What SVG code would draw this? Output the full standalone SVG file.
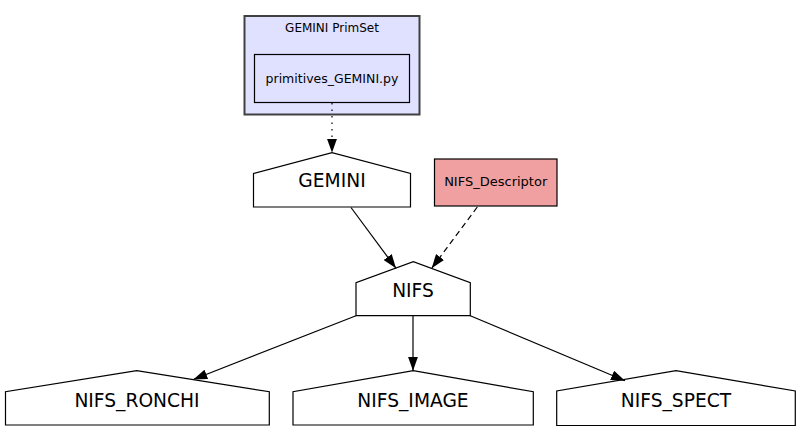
<svg xmlns="http://www.w3.org/2000/svg" width="800" height="437" viewBox="0 0 800 437">
<style>
  .big { font-family: "DejaVu Sans", sans-serif; font-size: 18.67px; text-anchor: middle; fill: #000; }
  .small { font-family: "DejaVu Sans", sans-serif; font-size: 12.5px; text-anchor: middle; fill: #000; }
  .house { fill: #ffffff; stroke: #000; stroke-width: 1.2; }
  .edge { fill: none; stroke: #000; stroke-width: 1.2; }
</style>
<defs>
  <marker id="arr" viewBox="0 0 14 10" refX="14" refY="5" markerWidth="14" markerHeight="10" markerUnits="userSpaceOnUse" orient="auto">
    <path d="M0,0 L14,5 L0,10 z" fill="#000"/>
  </marker>
</defs>
<rect width="800" height="437" fill="#ffffff"/>
<g id="cluster_GEMINI_PrimSet">
  <rect x="244.5" y="16" width="175" height="98.5" fill="#e0e0ff" stroke="#404040" stroke-width="2"/>
  <text class="small" x="332" y="31.5" style="font-size:12px">GEMINI PrimSet</text>
</g>
<g id="node_primitives_GEMINI">
  <rect x="254.5" y="54.5" width="155" height="48" fill="#e0e0ff" stroke="#000" stroke-width="1.2"/>
  <text class="small" x="332" y="83.3">primitives_GEMINI.py</text>
</g>
<g id="node_GEMINI">
  <polygon class="house" points="253.5,207 410.5,207 410.5,173.5 332,152.7 253.5,173.5"/>
  <text class="big" x="332" y="186.7">GEMINI</text>
</g>
<g id="node_NIFS_Descriptor">
  <rect x="434.5" y="159" width="122.5" height="47" fill="#f0a0a0" stroke="#000" stroke-width="1.2"/>
  <text class="small" x="495.7" y="185.7" style="font-size:13px">NIFS_Descriptor</text>
</g>
<g id="node_NIFS">
  <polygon class="house" points="356,315.7 470.3,315.7 470.3,282.7 413.3,261.7 356,282.7"/>
  <text class="big" x="413" y="296.7">NIFS</text>
</g>
<g id="node_NIFS_RONCHI">
  <polygon class="house" points="5.5,425 269.3,425 269.3,391.7 136.7,370.7 5.5,391.7"/>
  <text class="big" x="137" y="406.7">NIFS_RONCHI</text>
</g>
<g id="node_NIFS_IMAGE">
  <polygon class="house" points="293,425 533.3,425 533.3,391.7 413.3,370.7 293,391.7"/>
  <text class="big" x="413" y="406.5">NIFS_IMAGE</text>
</g>
<g id="node_NIFS_SPECT">
  <polygon class="house" points="556.7,425.5 795.3,425.5 795.3,391 676,370.7 556.7,391"/>
  <text class="big" x="676" y="406.5">NIFS_SPECT</text>
</g>
<g id="edges">
  <line class="edge" x1="332" y1="103" x2="332" y2="152.7" stroke-width="1.5" stroke-dasharray="1.5,5" marker-end="url(#arr)"/>
  <line class="edge" x1="351" y1="207.5" x2="396" y2="268.3" marker-end="url(#arr)"/>
  <line class="edge" x1="477.3" y1="207" x2="431.7" y2="268.3" stroke-dasharray="6,4" marker-end="url(#arr)"/>
  <line class="edge" x1="356" y1="315.7" x2="193.3" y2="379.5" marker-end="url(#arr)"/>
  <line class="edge" x1="413" y1="316" x2="413" y2="370.7" marker-end="url(#arr)"/>
  <line class="edge" x1="470.3" y1="315.7" x2="625" y2="380.7" marker-end="url(#arr)"/>
</g>
</svg>
